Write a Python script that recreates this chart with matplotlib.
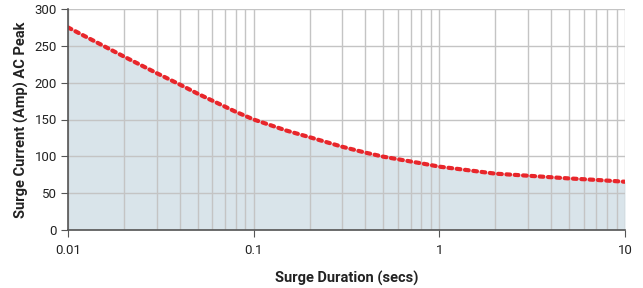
import matplotlib
matplotlib.use("Agg")
import matplotlib.pyplot as plt
import matplotlib.ticker as mticker
import numpy as np

duration = [0.01, 0.02, 0.03, 0.04, 0.05, 0.06, 0.07, 0.08, 0.09, 0.1, 0.15, 0.2, 0.3, 0.4, 0.5, 0.6, 0.8, 1, 1.5, 2, 3, 5, 7, 10]
current = [275, 235.5, 213, 197.5, 185, 175.5, 167.5, 160.5, 155, 150, 135, 126, 113, 105, 99.5, 96, 90.5, 86, 80.5, 76.5, 73.7, 70, 68, 65.5]

plt.rcParams['font.family'] = ['Roboto', 'DejaVu Sans']

fig = plt.figure(figsize=(6.43, 2.88), dpi=100)
ax = fig.add_axes([68/643, 58/288, 557/643, 221/288])

ax.set_xscale('log')
ax.set_xlim(0.01, 10)
ax.set_ylim(0, 300)

ax.fill_between(duration, current, 0, color='#d9e4ea', zorder=1, linewidth=0)
ax.plot(duration, current, color='#e8262b', linestyle=(0, (0.9, 1.1)), linewidth=3,
        dash_capstyle='round', zorder=3)

ax.set_yticks(np.arange(0, 301, 50))
ax.xaxis.set_major_locator(mticker.FixedLocator([0.01, 0.1, 1, 10]))
ax.xaxis.set_major_formatter(mticker.FixedFormatter(['0.01', '0.1', '1', '10']))
ax.xaxis.set_minor_locator(mticker.LogLocator(base=10, subs=np.arange(2, 10)))
ax.xaxis.set_minor_formatter(mticker.NullFormatter())

ax.grid(True, which='both', axis='x', color='#c4c4c4', linewidth=1, zorder=2)
ax.grid(True, which='major', axis='y', color='#c4c4c4', linewidth=1, zorder=2)
ax.set_axisbelow(False)

for s in ['top', 'right']:
    ax.spines[s].set_visible(False)
for s in ['left', 'bottom']:
    ax.spines[s].set_color('#555555')
    ax.spines[s].set_linewidth(1.2)
    ax.spines[s].set_zorder(4)

ax.tick_params(axis='both', which='major', length=5, color='#555555', labelsize=9.5, labelcolor='#222222')
ax.tick_params(axis='x', which='minor', length=0)
ax.tick_params(axis='x', pad=5)
ax.tick_params(axis='y', pad=3)

ax.set_xlabel('Surge Duration (secs)', fontsize=10.5, fontweight='bold', color='#222222', labelpad=10)
ax.set_ylabel('Surge Current (Amp) AC Peak', fontsize=10.5, fontweight='bold', color='#222222', labelpad=4)

fig.savefig('out.png', dpi=100)
